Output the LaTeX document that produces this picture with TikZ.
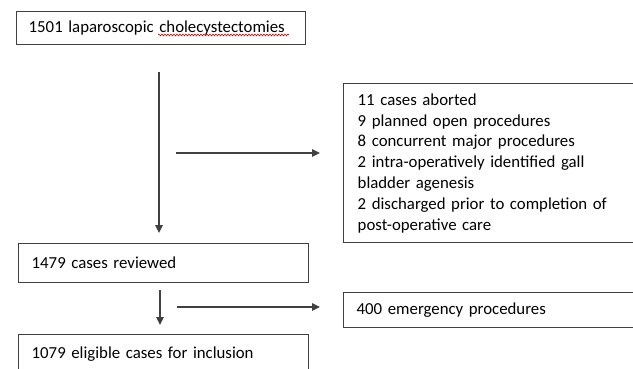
\documentclass[tikz,border=0pt]{standalone}
\usepackage{fontspec}
\setmainfont{Carlito}[WordSpace=0.7]
\usetikzlibrary{arrows.meta,decorations.pathmorphing}
\begin{document}
\begin{tikzpicture}[x=1pt,y=-1pt,
  box/.style={draw=black!75,line width=1.4pt,rectangle,anchor=north west,align=left,
    inner ysep=0pt,font=\fontsize{16.8}{20.8}\selectfont,text=black},
  arr/.style={draw=black!75,line width=1.3pt,-{Triangle[length=8pt,width=7.5pt]}}]
\useasboundingbox (0,0) rectangle (633,369);
\clip (0,0) rectangle (633,369);
\node[box,minimum height=33pt,text width=265pt,inner xsep=12pt] (b1) at (16,11)
  {1501 laparoscopic cholecystectomies};
\node[box,minimum height=159pt,text width=270pt,inner xsep=14pt] (b2) at (343,83)
  {11 cases aborted\\
   9 planned open procedures\\
   8 concurrent major procedures\\
   2 intra-operatively identified gall\\
   bladder agenesis\\
   2 discharged prior to completion of\\
   post-operative care};
\node[box,minimum height=39pt,text width=264pt,inner xsep=13pt] (b3) at (18,243)
  {1479 cases reviewed};
\node[box,minimum height=38pt,text width=264pt,inner xsep=13pt] (b4) at (18,334)
  {1079 eligible cases for inclusion};
\node[box,minimum height=35pt,text width=272pt,inner xsep=13pt] (b5) at (343,292)
  {400 emergency procedures};
\coordinate (v1s) at (159,72);
\coordinate (v1e) at (159,233);
\coordinate (h1s) at (176,153);
\coordinate (h1e) at (320,153);
\coordinate (v2s) at (160,290);
\coordinate (v2e) at (160,325);
\coordinate (h2s) at (177,307);
\coordinate (h2e) at (320,307);
\draw[arr] (v1s) -- (v1e);
\draw[arr] (h1s) -- (h1e);
\draw[arr] (v2s) -- (v2e);
\draw[arr] (h2s) -- (h2e);
\coordinate (u1) at (158,35);
\coordinate (u2) at (289,35);
\draw[red!85!black,line width=0.6pt,decorate,decoration={snake,amplitude=0.9pt,segment length=3pt}] (u1) -- (u2);
\end{tikzpicture}
\end{document}
